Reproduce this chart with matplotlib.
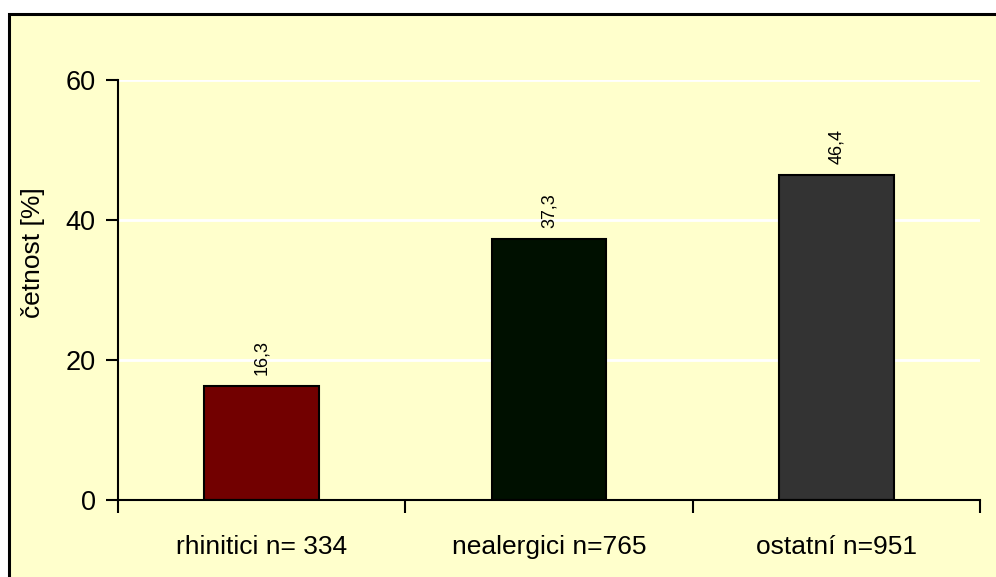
import matplotlib
matplotlib.use("Agg")
import matplotlib.pyplot as plt
from matplotlib.patches import Rectangle

categories = ["rhinitici n= 334", "nealergici n=765", "ostatní n=951"]
values = [16.3, 37.3, 46.4]
value_labels = ["16,3", "37,3", "46,4"]
bar_colors = ["#720000", "#001000", "#333333"]
yticks = [0, 20, 40, 60]
ylabel = "četnost [%]"

plt.rcParams["font.family"] = ["Liberation Sans", "DejaVu Sans"]

W, H = 996, 577
fig = plt.figure(figsize=(W / 100, H / 100), dpi=100)
fig.patch.set_facecolor("white")
bg = "#FFFFCC"
fig.patches.append(Rectangle((9 / W, -0.05), 1.2, 1 - 14 / H + 0.05,
                             transform=fig.transFigure, facecolor=bg,
                             edgecolor="black", linewidth=2.2, zorder=-10))

left, right = 118 / W, 980 / W
bottom, top = 1 - 500 / H, 1 - 80 / H
ax = fig.add_axes([left, bottom, right - left, top - bottom])
ax.set_zorder(5)
ax.set_facecolor(bg)

x = list(range(len(categories)))
ax.bar(x, values, width=0.4, color=bar_colors, edgecolor="black",
       linewidth=1.5, zorder=3)
for xi, v, lab in zip(x, values, value_labels):
    ax.annotate(lab, (xi, v), xytext=(0, 8), textcoords="offset points",
                rotation=90, ha="center", va="bottom", fontsize=13, zorder=4)

ax.set_xlim(-0.5, 2.5)
ax.set_ylim(0, 60)
ax.set_yticks(yticks)
ax.set_yticklabels([str(t) for t in yticks], fontsize=19.5)
ax.tick_params(axis="y", direction="out", length=9, width=1.5, pad=7)
ax.yaxis.grid(True, color="white", linewidth=2, zorder=1)
ax.set_axisbelow(True)

ax.set_xticks(x)
ax.set_xticklabels(categories, fontsize=19)
ax.tick_params(axis="x", which="major", length=0, pad=25)
ax.set_xticks([-0.5, 0.5, 1.5, 2.5], minor=True)
ax.tick_params(axis="x", which="minor", direction="out", length=9, width=1.5)

for s in ["top", "right"]:
    ax.spines[s].set_visible(False)
for s in ["left", "bottom"]:
    ax.spines[s].set_linewidth(1.5)
    ax.spines[s].set_zorder(5)

fig.text(33 / W, 1 - 253 / H, ylabel, rotation=90, ha="center", va="center",
         fontsize=19, zorder=6)

fig.savefig("out.png", dpi=100, facecolor=fig.get_facecolor())
